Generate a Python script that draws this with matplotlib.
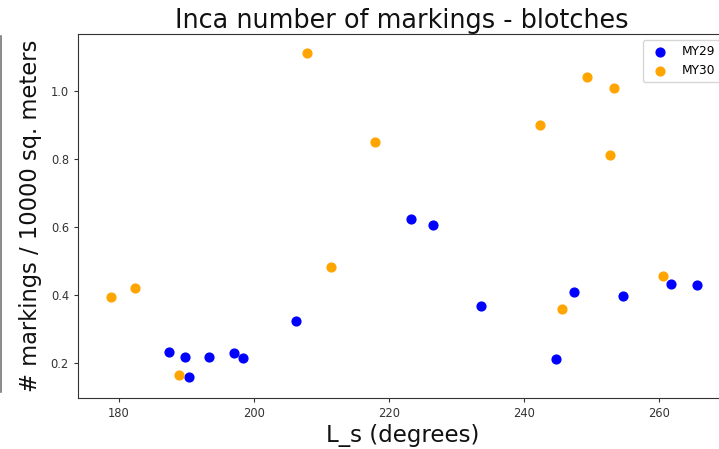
import matplotlib
matplotlib.use("Agg")
import matplotlib.pyplot as plt
from matplotlib.lines import Line2D

my29_ls = [187.4, 189.8, 190.4, 193.4, 197.0, 198.4, 206.3, 223.2, 226.5, 233.7, 244.7, 247.4, 254.6, 261.8, 265.6]
my29_val = [0.233, 0.218, 0.161, 0.218, 0.229, 0.214, 0.323, 0.624, 0.605, 0.368, 0.211, 0.409, 0.398, 0.433, 0.429]

my30_ls = [178.8, 182.4, 188.9, 207.9, 211.4, 217.9, 242.4, 249.4, 253.4, 252.8, 245.6, 260.6]
my30_val = [0.395, 0.421, 0.166, 1.110, 0.482, 0.849, 0.898, 1.041, 1.008, 0.812, 0.360, 0.455]

W, H = 719, 449
dpi = 100
fig = plt.figure(figsize=(W / dpi, H / dpi), dpi=dpi)
x0, x1 = 173.93, 270.0
y0, y1 = 0.098, 1.166
left_px, top_px, bottom_px = 78, 34, 398
width_px = (x1 - x0) * 6.75
ax = fig.add_axes([left_px / W, 1 - bottom_px / H, width_px / W, (bottom_px - top_px) / H])

ax.scatter(my29_ls, my29_val, s=40, color="blue", label="MY29", zorder=3)
ax.scatter(my30_ls, my30_val, s=40, color="orange", label="MY30", zorder=3)
ax.set_xlim(x0, x1)
ax.set_ylim(y0, y1)
ax.set_xticks([180, 200, 220, 240, 260])
ax.set_yticks([0.2, 0.4, 0.6, 0.8, 1.0])
ax.tick_params(labelsize=8.3, colors="#333333", length=3)
for sp in ax.spines.values():
    sp.set_color("#333333")
ax.set_title("Inca number of markings - blotches", fontsize=18.4, color="#111111", pad=4)
ax.set_xlabel("L_s (degrees)", fontsize=16.5, color="#111111", labelpad=3)
ax.set_ylabel("# markings / 10000 sq. meters", fontsize=16.3, color="#111111", labelpad=6)
ax.legend(loc="upper right", fontsize=8.8)

fig.add_artist(Line2D([0.8 / W, 0.8 / W], [1 - 36 / H, 1 - 392 / H], transform=fig.transFigure,
                      color="#777777", linewidth=1.2))

fig.savefig("out.png", dpi=dpi)
